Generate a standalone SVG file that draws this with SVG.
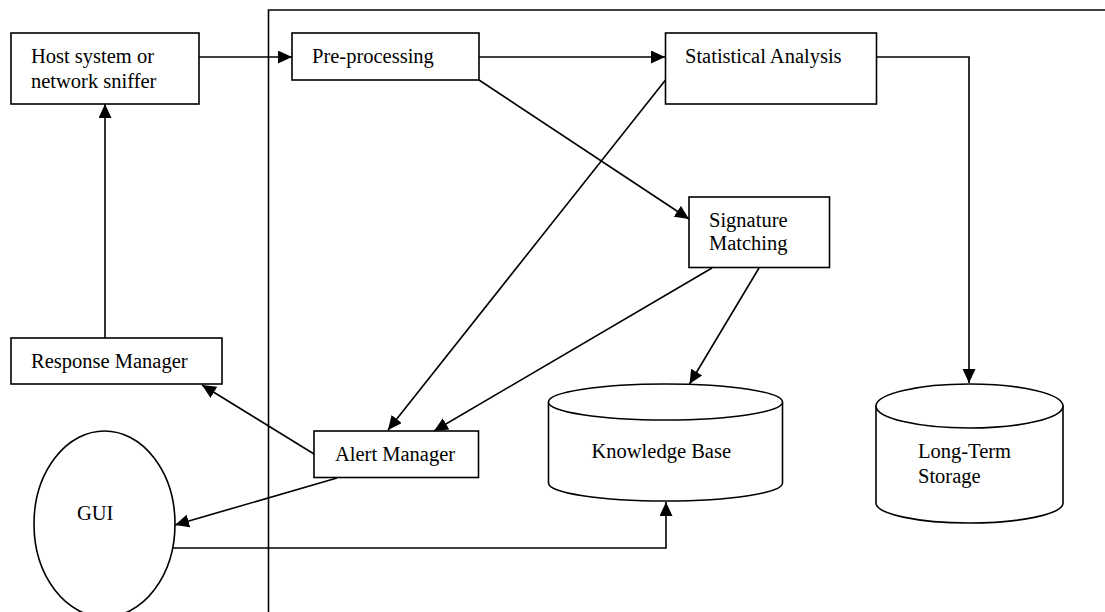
<svg xmlns="http://www.w3.org/2000/svg" width="1105" height="612" viewBox="0 0 1105 612">
<defs>
<style>
.box{fill:#fff;stroke:#000;stroke-width:1.6}
.ln{fill:none;stroke:#000;stroke-width:1.6}
.t{font-family:"Liberation Serif","Times New Roman",serif;font-size:20.5px;fill:#000}
</style>
<marker id="ah" markerUnits="userSpaceOnUse" markerWidth="15" markerHeight="14" refX="14" refY="6.5" orient="auto">
<path d="M0,0 L14,6.5 L0,13 z" fill="#000"/>
</marker>
</defs>
<rect width="1105" height="612" fill="#fff"/>
<path id="frame" class="ln" d="M268.5,612 V10 H1105"/>
<g id="host"><rect class="box" x="11" y="33" width="188" height="71"/><text class="t" x="31" y="63">Host system or</text><text class="t" x="31" y="88">network sniffer</text></g>
<g id="pre"><rect class="box" x="292" y="33" width="187" height="47"/><text class="t" x="312" y="63">Pre-processing</text></g>
<g id="stat"><rect class="box" x="665.5" y="33" width="211" height="71"/><text class="t" x="685" y="63">Statistical Analysis</text></g>
<g id="sig"><rect class="box" x="689" y="197" width="140.5" height="70.5"/><text class="t" x="709" y="227">Signature</text><text class="t" x="709" y="250">Matching</text></g>
<g id="resp"><rect class="box" x="11" y="338" width="211" height="46"/><text class="t" x="31" y="368">Response Manager</text></g>
<g id="alert"><rect class="box" x="314" y="431" width="164.5" height="46.5"/><text class="t" x="335" y="461">Alert Manager</text></g>
<g id="gui"><ellipse class="box" cx="104.5" cy="524" rx="70.5" ry="93"/><text class="t" x="77" y="520">GUI</text></g>
<g id="kb"><path class="box" d="M548.5,402 V483 A117,18 0 0 0 782.5,483 V402"/><ellipse class="box" cx="665.5" cy="402" rx="117" ry="18"/><text class="t" x="591.5" y="458">Knowledge Base</text></g>
<g id="lts"><path class="box" d="M876,406 V503 A93.5,20 0 0 0 1063,503 V406"/><ellipse class="box" cx="969.5" cy="406" rx="93.5" ry="22"/><text class="t" x="918" y="458">Long-Term</text><text class="t" x="918" y="483">Storage</text></g>
<g id="connectors">
<path class="ln" marker-end="url(#ah)" d="M199,57 H292"/>
<path class="ln" marker-end="url(#ah)" d="M479,57 H665"/>
<path class="ln" marker-end="url(#ah)" d="M876.5,57 H969 V383"/>
<path class="ln" marker-end="url(#ah)" d="M479,80 L689,219"/>
<path class="ln" marker-end="url(#ah)" d="M665.5,80 L388,430"/>
<path class="ln" marker-end="url(#ah)" d="M759,268 L689.5,384"/>
<path class="ln" marker-end="url(#ah)" d="M712,268 L434,431"/>
<path class="ln" marker-end="url(#ah)" d="M314,454 L202,385"/>
<path class="ln" marker-end="url(#ah)" d="M337,478 L175,525"/>
<path class="ln" marker-end="url(#ah)" d="M105,338 V104"/>
<path class="ln" marker-end="url(#ah)" d="M173,548 H666 V502"/>
</g>
</svg>
